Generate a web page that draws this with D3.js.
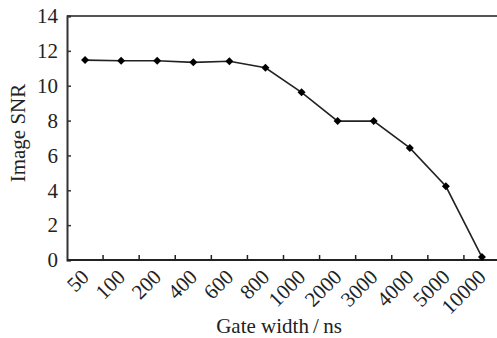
<!DOCTYPE html>
<html>
<head>
<meta charset="utf-8">
<script src="https://cdn.jsdelivr.net/npm/d3@7"></script>
<style>
  body { margin: 0; background: #fff; }
  svg { display: block; }
  text { font-family: "Liberation Serif", "Times New Roman", serif; fill: #222; }
</style>
</head>
<body>
<div id="chart"></div>
<script>
// Gate width categories and image SNR values
const gateWidths = ["50", "100", "200", "400", "600", "800", "1000", "2000", "3000", "4000", "5000", "10000"];
const snrValues = [11.47, 11.43, 11.43, 11.34, 11.4, 11.03, 9.62, 7.97, 7.97, 6.43, 4.23, 0.17];
const yTicks = [0, 2, 4, 6, 8, 10, 12, 14];

const W = 497, H = 338;
const fontSize = 21;
let margin = { top: 16, right: -3, bottom: 78, left: 67 };
let width = W - margin.left - margin.right,
    height = H - margin.top - margin.bottom;

const svg = d3.select("#chart")
    .append("svg")
    .attr("width", W)
    .attr("height", H)
    .append("g")
    .attr("transform", "translate(" + margin.left + "," + margin.top + ")");

// Scales: categories sit in equal bands, ticks on the band edges
let x = d3.scaleBand().domain(gateWidths).range([0, width]);
let y = d3.scaleLinear().domain([0, 14]).range([height, 0]);

// Frame top line
svg.append("line")
    .attr("x1", 0).attr("x2", width)
    .attr("y1", 0).attr("y2", 0)
    .attr("stroke", "#555").attr("stroke-width", 2);

// Y axis
const yAxis = svg.append("g")
    .call(d3.axisLeft(y).tickValues(yTicks).tickSize(-4).tickPadding(9));
yAxis.select(".domain").attr("stroke", "#333").attr("stroke-width", 2);
yAxis.selectAll(".tick line").attr("stroke", "#333").attr("stroke-width", 1.5);
yAxis.selectAll(".tick text")
    .attr("font-size", fontSize)
    .attr("font-family", "Liberation Serif")
    .attr("fill", "#222");

// X axis: line plus ticks at band boundaries
svg.append("line")
    .attr("x1", 0).attr("x2", width)
    .attr("y1", height).attr("y2", height)
    .attr("stroke", "#222").attr("stroke-width", 2);

svg.selectAll(".xtick")
    .data(gateWidths.slice(1))
    .enter()
    .append("line")
    .attr("class", "xtick")
    .attr("x1", (d) => x(d)).attr("x2", (d) => x(d))
    .attr("y1", height).attr("y2", height - 5)
    .attr("stroke", "#222").attr("stroke-width", 1.5);

svg.selectAll(".xlabel")
    .data(gateWidths)
    .enter()
    .append("text")
    .attr("class", "xlabel")
    .attr("transform", (d) => "translate(" + (x(d) + x.bandwidth() / 2) + "," + (height + 13) + ") rotate(-45)")
    .attr("text-anchor", "end")
    .attr("dy", "0.35em")
    .attr("font-size", fontSize)
    .text((d) => d);

// Data line
const cx = (d, i) => x(gateWidths[i]) + x.bandwidth() / 2;
const line = d3.line()
    .x((d, i) => cx(d, i))
    .y((d) => y(d));

svg.append("path")
    .datum(snrValues)
    .attr("fill", "none")
    .attr("stroke", "#222")
    .attr("stroke-width", 1.6)
    .attr("d", line);

// Markers
svg.selectAll(".pt")
    .data(snrValues)
    .enter()
    .append("path")
    .attr("class", "pt")
    .attr("d", d3.symbol().type(d3.symbolSquare).size(32))
    .attr("transform", (d, i) => "translate(" + cx(d, i) + "," + y(d) + ") rotate(45)")
    .attr("fill", "#000");

// Axis titles
svg.append("text")
    .attr("transform", "translate(" + (25 - margin.left) + "," + (133 - margin.top) + ") rotate(-90)")
    .attr("text-anchor", "middle")
    .attr("font-size", fontSize)
    .text("Image SNR");

svg.append("text")
    .attr("x", 279 - margin.left)
    .attr("y", 333 - margin.top)
    .attr("text-anchor", "middle")
    .attr("font-size", fontSize)
    .text("Gate width\u2009/\u2009ns");
</script>
</body>
</html>
